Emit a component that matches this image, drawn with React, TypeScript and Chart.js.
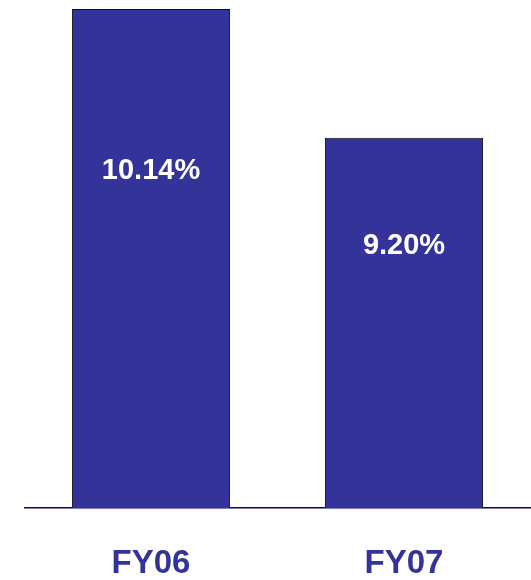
import React, { useEffect, useRef } from "react";
import { Chart, registerables } from "chart.js";

Chart.register(...registerables);

const categories = ["FY06", "FY07"];
const values = [10.14, 9.2];
const valueLabels = ["10.14%", "9.20%"];

const FONT = '"Liberation Sans", Arial, Helvetica, sans-serif';
const BAR_COLOR = "#333399";

const innerLabels = {
  id: "innerLabels",
  afterDatasetsDraw(chart: any, _args: any, opts: any) {
    const { ctx } = chart;
    const meta = chart.getDatasetMeta(0);
    ctx.save();
    ctx.fillStyle = "#ffffff";
    ctx.font = `bold 29px ${FONT}`;
    ctx.textAlign = "center";
    ctx.textBaseline = "middle";
    meta.data.forEach((bar: any, i: number) => {
      const off = (opts.offsets && opts.offsets[i]) || 0;
      ctx.fillText(valueLabels[i], bar.x, bar.y + off);
    });
    ctx.restore();
  },
};

export default function App() {
  const ref = useRef<HTMLCanvasElement | null>(null);
  useEffect(() => {
    if (!ref.current) return;
    const chart = new Chart(ref.current, {
      type: "bar",
      data: {
        labels: categories,
        datasets: [
          {
            data: values,
            backgroundColor: BAR_COLOR,
            borderColor: "#111111",
            borderWidth: 1,
            barPercentage: 0.625,
            categoryPercentage: 1,
          },
        ],
      },
      options: {
        animation: false,
        responsive: false,
        maintainAspectRatio: false,
        layout: { padding: { top: 9, left: 24.5, right: 0.5, bottom: 0 } },
        plugins: {
          legend: { display: false },
          tooltip: { enabled: false },
          innerLabels: { offsets: [162, 108] },
        } as any,
        scales: {
          x: {
            grid: { display: false, drawTicks: false },
            border: { display: true, color: "#000080", width: 1.5 },
            ticks: {
              color: BAR_COLOR,
              padding: 36,
              font: { family: FONT, size: 33, weight: "bold" },
            },
            afterFit(scale: any) {
              scale.height = 72;
            },
          },
          y: {
            display: false,
            min: 6.5,
            max: 10.14,
          },
        },
      },
      plugins: [innerLabels],
    });
    return () => chart.destroy();
  }, []);
  return (
    <div style={{ position: "fixed", left: 0, top: 0, width: 531, height: 580, background: "#fff" }}>
      <canvas ref={ref} width={531} height={580} style={{ display: "block" }} />
    </div>
  );
}
